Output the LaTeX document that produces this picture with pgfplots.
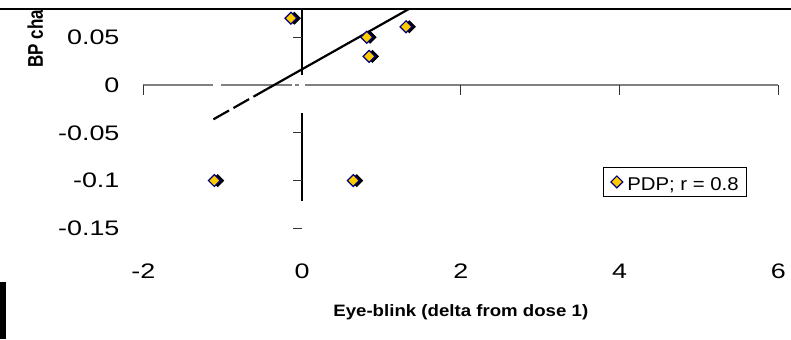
\documentclass[border=0pt]{standalone}
\usepackage{pgfplots}
\pgfplotsset{compat=1.18}
\usepackage{fontspec}
\setmainfont{Liberation Sans}
\usepackage{graphicx}
\definecolor{gold}{RGB}{255,204,0}
\definecolor{navy}{RGB}{0,0,128}
\definecolor{axgray}{RGB}{128,128,128}
\newcommand\sx[1]{\scalebox{1.28}[1]{#1}}
\pgfplotstableread{
x y
-0.14 0.070
0.815 0.050
0.845 0.030
1.31 0.061
-1.105 -0.100
0.646 -0.100
}\pdpdata
\begin{document}
\begin{tikzpicture}[x=1pt,y=1pt]
\useasboundingbox (0,0) rectangle (395.5,169.5);
\begin{axis}[
  at={(71.65pt,55.35pt)}, anchor=south west,
  scale only axis, width=317.5pt, height=109.5pt,
  xmin=-2, xmax=6, ymin=-0.15, ymax=0.0793,
  clip=false,
  axis line style={draw=none}, major tick length=0pt,
  xtick={-2,0,2,4,6}, xticklabels={\sx{-2},\sx{0},\sx{2},\sx{4},\sx{6}},
  ytick={-0.15,-0.1,-0.05,0,0.05},
  yticklabels={\sx{-0.15},\sx{-0.1},\sx{-0.05},\sx{0},\sx{0.05}},
  tick label style={font=\fontsize{10.5}{12}\selectfont, inner sep=0pt},
  xticklabel style={anchor=north, yshift=-17.5pt},
  yticklabel style={anchor=east, xshift=-11.75pt},
  xlabel={\scalebox{1.13}[1]{Eye-blink (delta from dose 1)}},
  xlabel style={font=\bfseries\fontsize{8.25}{10}\selectfont, at={(axis description cs:0.5,-0.4037)}, anchor=base, inner sep=0pt},
  ylabel={\scalebox{1}[1.25]{BP change}},
  ylabel style={font=\bfseries\fontsize{8.5}{10}\selectfont, at={(axis description cs:-0.158,0.732)}, anchor=base west, inner sep=0pt},
  legend style={at={(axis description cs:0.724,0.282)}, anchor=north west, draw=black, line width=0.5pt,
    inner xsep=3.7pt, inner ysep=3.4pt, column sep=2.25pt,
    font=\fontsize{9.25}{11}\selectfont,
    nodes={inner sep=0pt, text height=8.1pt, text depth=0pt}},
  legend image code/.code={\draw[#1] plot coordinates {(0pt,0pt)};},
]
% horizontal axis at y=0 (with the gaps seen in the picture)
\draw[axgray, line width=1.1pt] (axis cs:-2,0) -- (axis cs:-1.12,0);
\draw[axgray, line width=1.1pt] (axis cs:-1.024,0) -- (axis cs:-0.13,0);
\draw[axgray, line width=1.1pt] (axis cs:-0.088,0) -- (axis cs:-0.038,0);
\draw[axgray, line width=1.1pt] (axis cs:0.038,0) -- (axis cs:6,0);
\draw[black!80, line width=0.5pt] (axis cs:-2,0) -- ++(0pt,-5pt);
\draw[black!80, line width=0.5pt] (axis cs:2,0) -- ++(0pt,-5pt);
\draw[black!80, line width=0.5pt] (axis cs:4,0) -- ++(0pt,-5pt);
\draw[black!80, line width=0.5pt] (axis cs:6,0) -- ++(0pt,-5pt);
% vertical axis at x=0
\draw[black, line width=0.7pt] (axis cs:0,0.0793) -- (axis cs:0,0.0105);
\draw[black, line width=0.7pt] (axis cs:0,-0.0293) -- (axis cs:0,-0.1217);
\draw[black!80, line width=0.5pt] (axis cs:0,0.05) -- ++(-4.6pt,0pt);
\draw[black!80, line width=0.5pt] (axis cs:0,-0.05) -- ++(-4.6pt,0pt);
\draw[black!80, line width=0.5pt] (axis cs:0,-0.1) -- ++(-4.6pt,0pt);
\draw[black!80, line width=0.5pt] (axis cs:0,-0.15) -- ++(-4.6pt,0pt);
% trend line
\addplot[black, line width=1.1pt, dash pattern=on 9pt off 2.5pt, forget plot] coordinates {(-1.117,-0.0359) (-0.44,-0.0041)};
\addplot[black, line width=1.1pt, forget plot] coordinates {(-0.44,-0.0041) (1.339,0.0793)};
% shadows
\addplot[only marks, mark=square*, mark size=2.1pt, mark options={rotate=45, fill=black, draw=black, xshift=1.2pt, yshift=-1.2pt}, forget plot] table[x=x,y=y] {\pdpdata};
% points
\addplot[only marks, mark=square*, mark size=2.1pt, mark options={rotate=45, fill=gold, draw=navy, line width=0.6pt}] table[x=x,y=y] {\pdpdata};
\addlegendentry{\scalebox{1.1}[1]{PDP; r = 0.8}}
\end{axis}
\fill[white] (0,165.3) rectangle (395.5,169.5);
\draw[black, line width=1pt] (0,164.85) -- (395.5,164.85);
\fill[black] (0,0) rectangle (3,28.65);
\end{tikzpicture}
\end{document}
